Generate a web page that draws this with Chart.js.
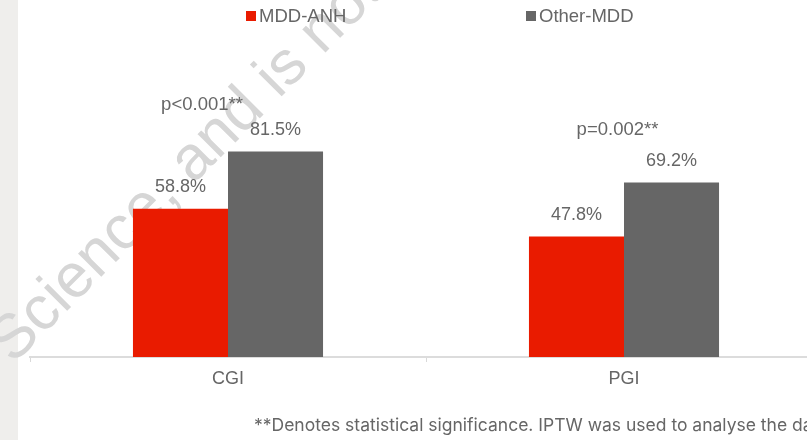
<!DOCTYPE html>
<html>
<head>
<meta charset="utf-8">
<script src="https://cdn.jsdelivr.net/npm/chart.js@4.4.1/dist/chart.umd.min.js"></script>
<style>
  html, body { margin: 0; padding: 0; width: 807px; height: 440px; overflow: hidden; background: #fff;
    font-family: "Liberation Sans", Arial, sans-serif; }
  #strip { position: absolute; left: 0; top: 0; width: 18px; height: 440px; background: #efeeec; }
  #wrap { position: absolute; left: 0; top: 0; width: 824px; height: 440px; }
  #legend { position: absolute; left: 0; top: 6px; width: 807px; height: 20px; }
  .item { position: absolute; top: 0; display: flex; align-items: center; font-size: 18.5px; color: #666; line-height: 20px; }
  .box { width: 10px; height: 10px; margin-right: 3px; }
  #note { position: absolute; left: 254px; top: 415px; font-family: Inter, sans-serif; font-size: 17.5px; line-height: 20px;
    color: #666; white-space: nowrap; }
</style>
</head>
<body>
<div id="strip"></div>
<div id="wrap"><canvas id="chart"></canvas></div>
<div id="legend"></div>
<div id="note"></div>
<script>
// values
const categories = ['CGI', 'PGI'];
const seriesNames = ['MDD-ANH', 'Other-MDD'];
const anhValues = [58.8, 47.8];
const otherValues = [81.5, 69.2];
const pValueLabels = ['p<0.001**', 'p=0.002**'];
const footnote = '**Denotes statistical significance. IPTW was used to analyse the data.';
const watermark = 'Science, and is not peer reviewed';

const COLORS = ['#e91b00', '#666666'];
const TEXT = '#666666';
const FONT = '"Liberation Sans", Arial, sans-serif';
const LEGEND_X = [246, 526];
// p-value text sits above the grey bar, shifted a bit per category
const P_OFFSETS = [{ dx: -26, dy: -47 }, { dx: -6.5, dy: -53 }];

const legend = document.getElementById('legend');
seriesNames.forEach((name, i) => {
  const item = document.createElement('div');
  item.className = 'item';
  item.style.left = LEGEND_X[i] + 'px';
  item.innerHTML = '<span class="box" style="background:' + COLORS[i] + '"></span>' + name;
  legend.appendChild(item);
});
document.getElementById('note').textContent = footnote;

const watermarkPlugin = {
  id: 'watermark',
  beforeDraw(chart) {
    const ctx = chart.ctx;
    ctx.save();
    ctx.translate(13, 365);
    ctx.rotate(-Math.PI / 4);
    ctx.font = '62px ' + FONT;
    ctx.fillStyle = '#d6d6d6';
    ctx.textBaseline = 'alphabetic';
    ctx.fillText(watermark, 0, 0);
    ctx.restore();
  },
};

const labelPlugin = {
  id: 'barLabels',
  afterDatasetsDraw(chart) {
    const ctx = chart.ctx;
    ctx.save();
    ctx.fillStyle = TEXT;
    ctx.textAlign = 'center';
    ctx.textBaseline = 'middle';
    ctx.font = '18px ' + FONT;
    chart.data.datasets.forEach((ds, d) => {
      chart.getDatasetMeta(d).data.forEach((bar, i) => {
        ctx.fillText(ds.data[i].toFixed(1) + '%', bar.x, bar.y - 22);
      });
    });
    // p-values over each category
    ctx.font = '18.5px ' + FONT;
    const xScale = chart.scales.x;
    const grey = chart.getDatasetMeta(1).data;
    pValueLabels.forEach((txt, i) => {
      const o = P_OFFSETS[i];
      ctx.fillText(txt, xScale.getPixelForValue(i) + o.dx, grey[i].y + o.dy);
    });
    ctx.restore();
  },
};

new Chart(document.getElementById('chart'), {
  type: 'bar',
  data: {
    labels: categories,
    datasets: [
      { label: seriesNames[0], data: anhValues, backgroundColor: COLORS[0] },
      { label: seriesNames[1], data: otherValues, backgroundColor: COLORS[1] },
    ],
  },
  options: {
    responsive: true,
    maintainAspectRatio: false,
    animation: false,
    layout: { padding: { left: 30, right: 2, top: 105, bottom: 53 } },
    datasets: { bar: { categoryPercentage: 0.48, barPercentage: 1, borderWidth: 0 } },
    plugins: { legend: { display: false }, tooltip: { enabled: false } },
    scales: {
      x: {
        afterFit(scale) { scale.height = 30; },
        grid: { offset: true, drawOnChartArea: false, tickLength: 5, color: '#d9d9d9', lineWidth: 1 },
        border: { color: '#dcdcdc', width: 2 },
        ticks: { color: TEXT, font: { family: FONT, size: 18 }, padding: 6 },
      },
      y: { display: false, min: 0, max: 100 },
    },
  },
  plugins: [watermarkPlugin, labelPlugin],
});
</script>
</body>
</html>
